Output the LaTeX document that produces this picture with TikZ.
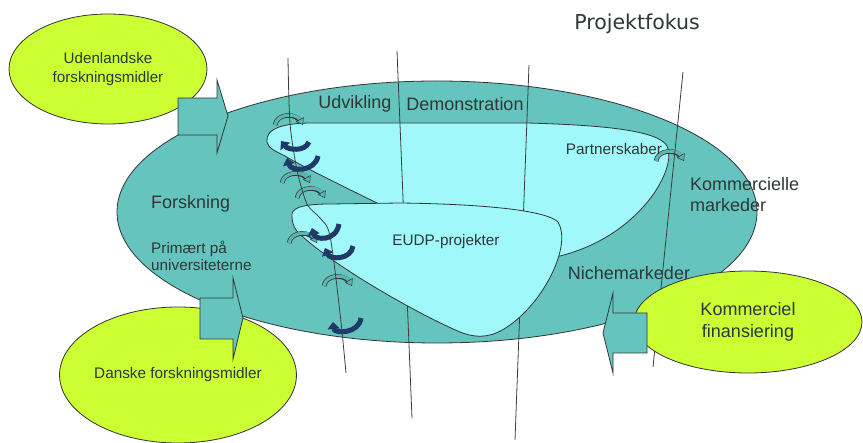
\documentclass[tikz,border=0pt]{standalone}
\usepackage{fontspec}
\setmainfont{Liberation Sans}
\newfontfamily\verd{DejaVu Sans}
\usetikzlibrary{shapes.geometric,arrows.meta}
\definecolor{tealA}{RGB}{102,196,190}
\definecolor{tealS}{RGB}{92,182,176}
\definecolor{cyanA}{RGB}{160,248,250}
\definecolor{greenA}{RGB}{204,255,51}
\definecolor{navyA}{RGB}{31,58,104}
\definecolor{edge}{RGB}{51,51,51}
\definecolor{linec}{RGB}{60,60,60}
\definecolor{textc}{RGB}{45,55,55}
\tikzset{
  outl/.style={draw=edge, line width=0.8pt},
  vline/.style={draw=linec, line width=0.8pt},
  fund/.style={outl, fill=tealA},
  greenell/.style={ellipse, outl, fill=greenA, inner sep=0pt, text=textc, align=center},
  lbl/.style={text=textc, inner sep=0pt},
  navyarr/.style={draw=navyA, line width=5pt, -{Triangle[length=7pt,width=12pt]}},
  tealarr/.pic={
    \draw[line width=4.6pt, draw=edge] (0,0) .. controls (2,-12) and (21,-12) .. (25,-4);
    \draw[line width=3.2pt, draw=tealS, -{Triangle[length=6.5pt,width=9pt,color=edge,fill=tealS,line width=0.5pt]}] (0,0) .. controls (2,-12) and (21,-12) .. (28,0);
  }
}
\begin{document}
\begin{tikzpicture}[x=1pt,y=-1pt]
\useasboundingbox (0,0) rectangle (863,443);
% big ellipse
\node[ellipse, outl, fill=tealA, minimum width=640pt, minimum height=262pt, inner sep=0pt] (big) at (437,212) {};
% upper cyan shape
\path[outl, fill=cyanA] (267,142) .. controls (265,128) and (285,123) .. (312,123)
  -- (527,123) .. controls (600,125) and (658,130) .. (667,146)
  .. controls (678,168) and (640,236) .. (560,256)
  -- (450,240) -- (377,203)
  .. controls (330,180) and (300,165) .. (285,156)
  .. controls (275,151) and (268,148) .. (267,142) -- cycle;
% divider lines 2 and 3
\coordinate (l2a) at (397,51); \coordinate (l2b) at (412,418);
\coordinate (l3a) at (529,65); \coordinate (l3b) at (515,440);
\draw[vline] (l2a) -- (l2b);
\draw[vline] (l3a) -- (l3b);
% EUDP shape
\path[outl, fill=cyanA] (292,217) .. controls (290,208) and (302,204) .. (330,204)
  -- (400,203) .. controls (480,204) and (546,210) .. (558,222)
  .. controls (572,245) and (545,300) .. (510,325)
  .. controls (495,336) and (480,340) .. (460,332)
  .. controls (420,315) and (340,270) .. (303,237)
  .. controls (295,231) and (292,224) .. (292,217) -- cycle;
% teal small arrows
\pic at (275,125) {tealarr};
\pic at (282,183) {tealarr};
\pic at (297,198) {tealarr};
\pic at (289,243) {tealarr};
\pic at (324,286) {tealarr};
\pic at (656,161) {tealarr};
% navy arrows
\draw[navyarr] (309,142) .. controls (305,152) and (288,150) .. (281,141);
\draw[navyarr] (318,156) .. controls (315,172) and (291,172) .. (287,158);
\draw[navyarr] (339,224) .. controls (336,242) and (315,240) .. (312,228);
\draw[navyarr] (353,246) .. controls (351,260) and (330,260) .. (325,248);
\draw[navyarr] (361,318) .. controls (359,334) and (334,334) .. (333,322);
% line 1 (wavy) and line 4
\draw[vline] plot[smooth] coordinates {(288,58) (290,123) (297,170) (307,204) (320,218) (330,236) (340,313) (346,373)};
\coordinate (l4a) at (683,72); \coordinate (l4b) at (653,367);
\draw[vline] (l4a) -- (l4b);
% labels
\node[lbl, font=\verd\fontsize{20.5}{24}\selectfont] (pf) at (637,24) {Projektfokus};
\node[lbl, font=\fontsize{18}{22}\selectfont] (udv) at (355,104) {Udvikling};
\node[lbl, font=\fontsize{18}{22}\selectfont] (dem) at (465,104) {Demonstration};
\node[lbl, font=\fontsize{15.3}{18}\selectfont] (par) at (614,149) {Partnerskaber};
\node[lbl, font=\fontsize{18}{21}\selectfont, align=left, anchor=west] (km) at (690,195) {Kommercielle\\markeder};
\node[lbl, font=\fontsize{15.3}{18}\selectfont] (eudp) at (446,242) {EUDP-projekter};
\node[lbl, font=\fontsize{18}{22}\selectfont] (niche) at (629,273) {Nichemarkeder};
\node[lbl, font=\fontsize{18}{22}\selectfont, anchor=west] (fors) at (151,204) {Forskning};
\node[lbl, font=\fontsize{15.3}{17}\selectfont, align=left, anchor=west] (prim) at (151,256) {Primært på\\universiteterne};
% green ellipses
\node[greenell, minimum width=198pt, minimum height=110pt, font=\fontsize{15.2}{19}\selectfont] (ud) at (108,69) {Udenlandske\\forskningsmidler};
\node[greenell, minimum width=236pt, minimum height=136pt, font=\fontsize{15.3}{19}\selectfont] (dk) at (178,375) {\raisebox{-3pt}{Danske forskningsmidler}};
\node[greenell, minimum width=228pt, minimum height=102pt, font=\fontsize{18}{22}\selectfont] (kf) at (748,322) {Kommerciel\\finansiering};
% funding arrows
\path[fund] (178,98) -- (217,98) -- (217,80) -- (228,116) -- (217,153) -- (217,135) -- (178,135) -- cycle;
\path[fund] (200,298) -- (233,298) -- (233,278) -- (243,318) -- (233,359) -- (233,339) -- (200,339) -- cycle;
\path[fund] (647,313) -- (613,313) -- (613,293) -- (603,333) -- (613,373) -- (613,353) -- (647,353) -- cycle;
\end{tikzpicture}
\end{document}
